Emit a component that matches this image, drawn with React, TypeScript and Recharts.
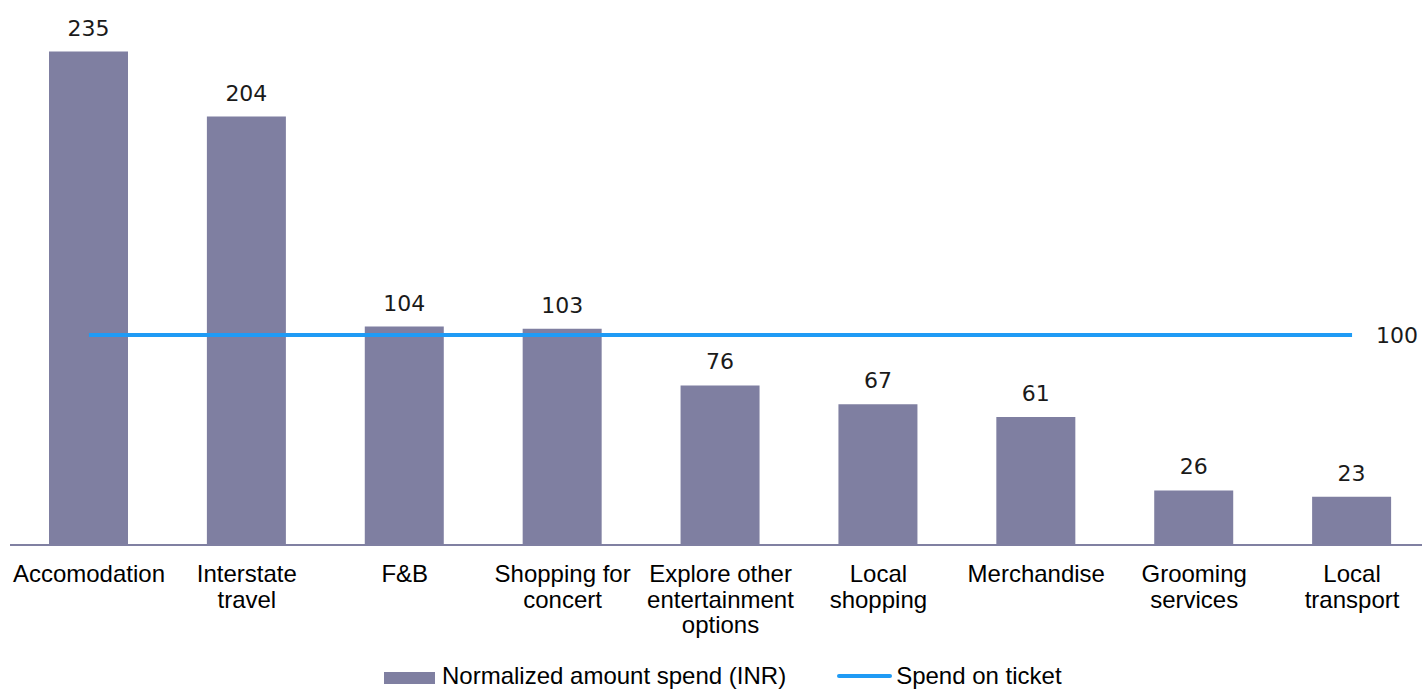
import { ComposedChart, Bar, Line, XAxis, YAxis, Legend, LabelList } from 'recharts';

const categories = [
  'Accomodation',
  'Interstate\ntravel',
  'F&B',
  'Shopping for\nconcert',
  'Explore other\nentertainment\noptions',
  'Local\nshopping',
  'Merchandise',
  'Grooming\nservices',
  'Local\ntransport',
];
const spendValues = [235, 204, 104, 103, 76, 67, 61, 26, 23];
const ticketValues = [100, 100, 100, 100, 100, 100, 100, 100, 100];
const seriesNames = ['Normalized amount spend (INR)', 'Spend on ticket'];

const BAR_COLOR = '#7f7fa1';
const LINE_COLOR = '#1f9bf5';
const SANS = '"Liberation Sans", Arial, sans-serif';
const VERDANA = '"DejaVu Sans", Verdana, sans-serif';

const data = categories.map((name, i) => ({
  name,
  spend: spendValues[i],
  ticket: ticketValues[i],
}));

function CategoryTick({ x, y, payload }: any) {
  const lines = String(payload.value).split('\n');
  return (
    <text x={x} y={y} textAnchor="middle" fontFamily={SANS} fontSize={24} fill="#000">
      {lines.map((l, i) => (
        <tspan key={i} x={x} y={y + 37 + i * 25.5}>
          {l}
        </tspan>
      ))}
    </text>
  );
}

function BarValue(props: any) {
  const { x, y, width, value } = props;
  return (
    <text x={Number(x) + Number(width) / 2} y={Number(y) - 16} textAnchor="middle" fontFamily={VERDANA} fontSize={22} fill="#1a1a1a">
      {value}
    </text>
  );
}

function LastPointValue({ x, y, value, index }: any) {
  if (index !== ticketValues.length - 1) return null;
  return (
    <text x={x + 24} y={y} dy="0.36em" textAnchor="start" fontFamily={VERDANA} fontSize={22} fill="#1a1a1a">
      {value}
    </text>
  );
}

function LegendBox() {
  return (
    <div
      style={{
        display: 'flex',
        alignItems: 'center',
        paddingLeft: 384,
        fontFamily: SANS,
        fontSize: 24,
        lineHeight: '28px',
        color: '#000',
        whiteSpace: 'nowrap',
      }}
    >
      <span style={{ width: 51, height: 12, background: BAR_COLOR, marginRight: 7, marginTop: 4 }} />
      <span>{seriesNames[0]}</span>
      <span style={{ width: 55, height: 4, background: LINE_COLOR, marginLeft: 51, marginRight: 4, borderRadius: 2 }} />
      <span>{seriesNames[1]}</span>
    </div>
  );
}

export default function App() {
  return (
    <div style={{ position: 'absolute', left: 0, top: 0, width: 1422, height: 690, overflow: 'hidden', background: '#fff' }}>
      <ComposedChart
        width={1431}
        height={690}
        data={data}
        margin={{ top: 20, right: 0, left: 10, bottom: 115 }}
      >
        <XAxis
          dataKey="name"
          interval={0}
          tickLine={false}
          tickSize={0}
          tickMargin={0}
          axisLine={{ stroke: '#8080a2', strokeWidth: 2 }}
          tick={<CategoryTick />}
        />
        <YAxis hide domain={[0, 250]} />
        <Legend
          verticalAlign="bottom"
          align="left"
          wrapperStyle={{ top: 662, left: 0, width: 1422, height: 0, overflow: 'visible' }}
          content={<LegendBox />}
        />
        <Bar dataKey="spend" name={seriesNames[0]} fill={BAR_COLOR} barSize={79} isAnimationActive={false}>
          <LabelList dataKey="spend" position="top" content={BarValue} />
        </Bar>
        <Line
          dataKey="ticket"
          name={seriesNames[1]}
          stroke={LINE_COLOR}
          strokeWidth={4}
          dot={false}
          activeDot={false}
          isAnimationActive={false}
        >
          <LabelList dataKey="ticket" content={LastPointValue} />
        </Line>
      </ComposedChart>
    </div>
  );
}
